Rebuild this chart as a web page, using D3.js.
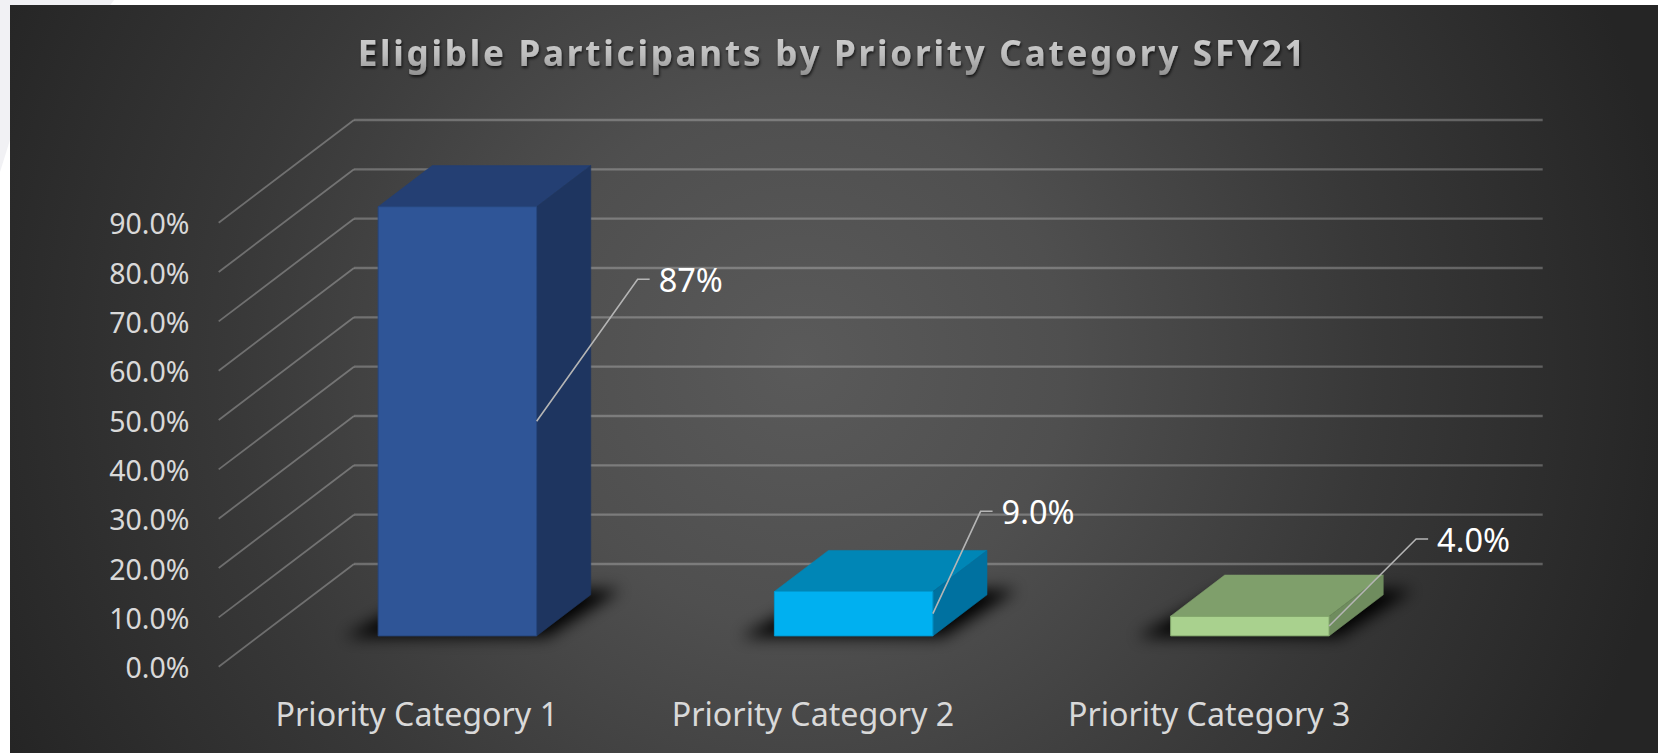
<!DOCTYPE html>
<html>
<head>
<meta charset="utf-8">
<script src="https://cdn.jsdelivr.net/npm/d3@7"></script>
<style>
  html, body { margin: 0; padding: 0; background: #fff; overflow: hidden; }
  svg { display: block; }
</style>
</head>
<body>
<svg id="chart" width="1658" height="753"></svg>
<script>
// Chart content
const chartTitle = "Eligible Participants by Priority Category SFY21";
const categories = ["Priority Category 1", "Priority Category 2", "Priority Category 3"];
const shares = [0.87, 0.09, 0.04];
const shareLabels = ["87%", "9.0%", "4.0%"];
const axisTicks = [0, 0.1, 0.2, 0.3, 0.4, 0.5, 0.6, 0.7, 0.8, 0.9];

// Face colours per bar
const frontColors = ["#2F5597", "#00B0F0", "#A9D18E"];
const topColors = ["#243F73", "#0086B6", "#7F9F6B"];
const sideColors = ["#1E3560", "#0071A0", "#6F8C5E"];
const edgeColors = ["#27477F", "#0099D1", "#7FA368"];

// Leader line layout: horizontal reach to the elbow, and elbow height
const leaderReach = [101, 47.7, 87];
const leaderElbowY = [279.3, 511.3, 539];

const W = 1658, H = 753;
const svg = d3.select("#chart");
const defs = svg.append("defs");

// Panel backdrop: soft glow from the centre towards dark corners
const glow = defs.append("radialGradient").attr("id", "panelGlow")
  .attr("gradientUnits", "userSpaceOnUse")
  .attr("cx", 800).attr("cy", 360).attr("r", 880);
[[0, "#5a5a5a"], [0.3, "#4f4f4f"], [0.65, "#383838"], [1, "#252525"]].forEach(([o, c]) =>
  glow.append("stop").attr("offset", o).attr("stop-color", c));

const titleFill = defs.append("linearGradient").attr("id", "titleFill")
  .attr("x1", 0).attr("y1", 0).attr("x2", 0).attr("y2", 1);
[[0, "#d4d4d4"], [0.55, "#bdbdbd"], [1, "#8f8f8f"]].forEach(([o, c]) =>
  titleFill.append("stop").attr("offset", o).attr("stop-color", c));

const titleShadow = defs.append("filter").attr("id", "titleShadow")
  .attr("x", "-5%").attr("y", "-30%").attr("width", "110%").attr("height", "170%");
titleShadow.append("feDropShadow").attr("dx", 1).attr("dy", 2).attr("stdDeviation", 1.4)
  .attr("flood-color", "#000").attr("flood-opacity", 0.7);

const floorBlur = defs.append("filter").attr("id", "floorBlur")
  .attr("x", "-30%").attr("y", "-60%").attr("width", "160%").attr("height", "220%");
floorBlur.append("feGaussianBlur").attr("stdDeviation", 8);

// Page behind the panel, with its pale corner shape
svg.append("rect").attr("width", W).attr("height", H).attr("fill", "#ffffff");
svg.append("path").attr("d", "M0,0L114,0L10,140L0,172Z").attr("fill", "#f1f1f4");
svg.append("rect").attr("x", 10).attr("y", 5).attr("width", W - 10).attr("height", H - 5)
  .attr("fill", "url(#panelGlow)");

// Oblique projection: front plane of the plot plus a depth fraction
const depthX = 135.3, depthY = -102.7;
const barNear = 0.3, barFar = 0.7;

const x = d3.scaleBand().domain(categories).range([218.7, 1407.4])
  .paddingInner(0.6).paddingOuter(0.3);
const y = d3.scaleLinear().domain([0, 0.9]).range([666.7, 222.7]);

const project = (px, value, depth) => [px + depthX * depth, y(value) + depthY * depth];
const pathOf = pts => "M" + pts.map(p => p.join(",")).join("L") + "Z";

// Gridlines: floor/wall diagonal, then along the back wall
const grid = svg.append("g");
axisTicks.forEach(t => {
  const a = project(x.range()[0], t, 0);
  const b = project(x.range()[0], t, 1);
  const c = project(x.range()[1], t, 1);
  grid.append("line").attr("x1", a[0]).attr("y1", a[1]).attr("x2", b[0]).attr("y2", b[1])
    .attr("stroke", "#ffffff").attr("stroke-opacity", 0.28).attr("stroke-width", 1.8);
  grid.append("line").attr("x1", b[0]).attr("y1", b[1]).attr("x2", c[0]).attr("y2", c[1])
    .attr("stroke", "#ffffff").attr("stroke-opacity", 0.25).attr("stroke-width", 2.4);
});

// Value axis labels
svg.append("g").selectAll("text").data(axisTicks).join("text")
  .attr("x", 189.5).attr("y", d => y(d) + 11.5)
  .attr("text-anchor", "end")
  .attr("font-family", "'Noto Sans', 'Open Sans', sans-serif")
  .attr("font-size", 28.5).attr("fill", "#d9d9d9")
  .text(d => d3.format(".1%")(d));

// Category labels
svg.append("g").selectAll("text").data(categories).join("text")
  .attr("x", d => x(d) + x.bandwidth() / 2).attr("y", 726)
  .attr("text-anchor", "middle")
  .attr("font-family", "'Noto Sans', 'Open Sans', sans-serif")
  .attr("font-size", 32.2).attr("fill", "#d9d9d9")
  .text(d => d);

// Bars, back to front: footprint shadow, top, side, front
const bars = svg.append("g").selectAll("g").data(categories).join("g");
bars.each(function (cat, i) {
  const g = d3.select(this);
  const x0 = x(cat), x1 = x0 + x.bandwidth(), v = shares[i];
  const fbl = project(x0, 0, barNear), fbr = project(x1, 0, barNear);
  const bbl = project(x0, 0, barFar), bbr = project(x1, 0, barFar);
  const ftl = project(x0, v, barNear), ftr = project(x1, v, barNear);
  const btl = project(x0, v, barFar), btr = project(x1, v, barFar);

  g.append("path")
    .attr("d", pathOf([
      [fbl[0] - 34, fbl[1] + 1], [fbr[0] + 10, fbr[1] + 1],
      [bbr[0] + 30, bbr[1] - 5], [bbl[0], bbl[1] - 5]
    ]))
    .attr("fill", "#050505").attr("filter", "url(#floorBlur)");

  g.append("path").attr("d", pathOf([ftl, ftr, btr, btl]))
    .attr("fill", topColors[i]).attr("stroke", topColors[i]).attr("stroke-width", 0.6);
  g.append("path").attr("d", pathOf([ftr, fbr, bbr, btr]))
    .attr("fill", sideColors[i]).attr("stroke", sideColors[i]).attr("stroke-width", 0.6);
  g.append("path").attr("d", pathOf([ftl, ftr, fbr, fbl]))
    .attr("fill", frontColors[i]).attr("stroke", edgeColors[i]).attr("stroke-width", 1);
});

// Leader lines and value labels
bars.each(function (cat, i) {
  const g = d3.select(this);
  const xr = x(cat) + x.bandwidth();
  const start = project(xr, shares[i] / 2, barNear);
  const elbowX = start[0] + leaderReach[i];
  const line = d3.line();
  g.append("path")
    .attr("d", line([start, [elbowX, leaderElbowY[i]], [elbowX + 12, leaderElbowY[i]]]))
    .attr("fill", "none").attr("stroke", "#b5b5b5").attr("stroke-width", 1.6);
  g.append("text")
    .attr("x", elbowX + 21).attr("y", leaderElbowY[i] + 13)
    .attr("font-family", "'Noto Sans', 'Open Sans', sans-serif")
    .attr("font-size", 32.5).attr("fill", "#ffffff")
    .text(shareLabels[i]);
});

// Title
svg.append("text")
  .attr("x", 832.5).attr("y", 66).attr("text-anchor", "middle")
  .attr("font-family", "'Noto Sans', 'Open Sans', sans-serif")
  .attr("font-weight", 700).attr("font-size", 35)
  .attr("letter-spacing", 2.8)
  .attr("fill", "url(#titleFill)").attr("filter", "url(#titleShadow)")
  .text(chartTitle);
</script>
</body>
</html>
